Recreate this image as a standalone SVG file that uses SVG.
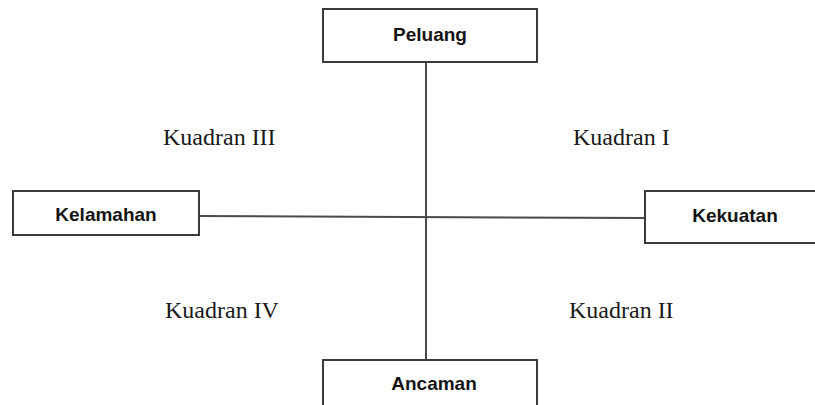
<svg xmlns="http://www.w3.org/2000/svg" width="815" height="405" viewBox="0 0 815 405">
  <style>
    .box { fill: #ffffff; stroke: #3a3a3a; stroke-width: 2; }
    .axis { stroke: #4a4a4a; stroke-width: 2; fill: none; }
    .label { font-family: "Liberation Sans", Arial, sans-serif; font-weight: bold; font-size: 19px; fill: #141414; text-anchor: middle; }
    .quad { font-family: "Liberation Serif", "Times New Roman", serif; font-size: 24px; fill: #1a1a1a; }
  </style>
  <rect width="815" height="405" fill="#ffffff"/>

  <!-- axes -->
  <g id="connectors">
    <line class="axis" x1="426" y1="62" x2="426" y2="360"/>
    <line class="axis" x1="199" y1="216" x2="645" y2="218"/>
  </g>

  <g id="peluang">
    <rect class="box" x="323" y="9" width="214" height="53"/>
    <text class="label" x="430" y="41">Peluang</text>
  </g>

  <g id="kelamahan">
    <rect class="box" x="13" y="191" width="186" height="44"/>
    <text class="label" x="106" y="221">Kelamahan</text>
  </g>

  <g id="kekuatan">
    <rect class="box" x="645" y="191" width="175" height="52"/>
    <text class="label" x="735" y="222">Kekuatan</text>
  </g>

  <g id="ancaman">
    <rect class="box" x="323" y="360" width="214" height="60"/>
    <text class="label" x="434" y="390">Ancaman</text>
  </g>

  <!-- quadrant captions -->
  <g id="quadrants">
    <text class="quad" x="163" y="145">Kuadran III</text>
    <text class="quad" x="573" y="145">Kuadran I</text>
    <text class="quad" x="165" y="318">Kuadran IV</text>
    <text class="quad" x="569" y="318">Kuadran II</text>
  </g>
</svg>
